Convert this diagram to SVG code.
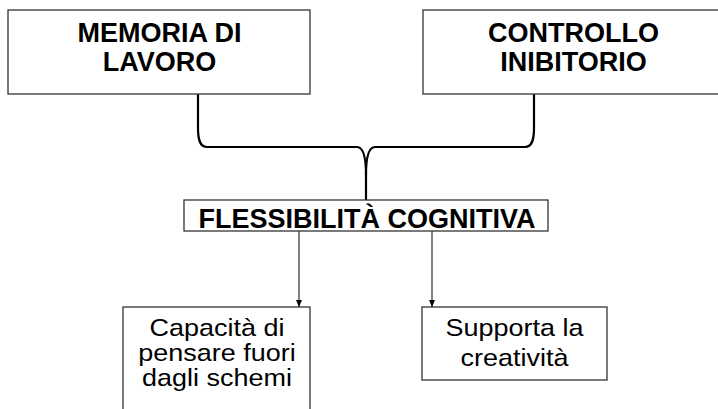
<svg xmlns="http://www.w3.org/2000/svg" width="718" height="409" viewBox="0 0 718 409">
<style>
.box{fill:#fff;stroke:#333;stroke-width:1.3}
.t{font-family:"Liberation Sans",Arial,sans-serif;font-size:24px;fill:#000;text-anchor:middle}
.b{font-weight:bold;font-size:27px}
.con{fill:none;stroke:#000}
</style>
<defs>
<marker id="ah" markerWidth="7" markerHeight="6" refX="7" refY="3" orient="auto" markerUnits="userSpaceOnUse" viewBox="0 0 7 6">
<path d="M0,0 L7,3 L0,6 Z" fill="#000"/>
</marker>
</defs>
<rect width="718" height="409" fill="#fff"/>
<g id="connectors">
<path class="con" stroke-width="2.2" d="M198,94 L198,128 C198,140 200,147 207,147 L357,147 C364,147 366,160 366,175 L366,200"/>
<path class="con" stroke-width="2.2" d="M534,94 L534,128 C534,140 532,147 525,147 L375,147 C368,147 366,160 366,175"/>
<line class="con" stroke-width="1" x1="299" y1="231" x2="299" y2="307" marker-end="url(#ah)"/>
<line class="con" stroke-width="1" x1="432" y1="231" x2="432" y2="307" marker-end="url(#ah)"/>
</g>
<g id="memoria">
<rect class="box" x="8" y="10" width="302" height="84"/>
<text class="t b" x="159.5" y="42">MEMORIA DI</text>
<text class="t b" x="159.5" y="71">LAVORO</text>
</g>
<g id="controllo">
<rect class="box" x="423" y="10" width="301" height="84"/>
<text class="t b" x="573.5" y="42">CONTROLLO</text>
<text class="t b" x="573.5" y="71">INIBITORIO</text>
</g>
<g id="flessibilita">
<rect class="box" x="184" y="200" width="364" height="31"/>
<text class="t b" x="367" y="228">FLESSIBILITÀ COGNITIVA</text>
</g>
<g id="capacita">
<rect class="box" x="123" y="307" width="187" height="120"/>
<g transform="translate(217,0) scale(1.125,1)">
<text class="t" x="0" y="336">Capacità di</text>
<text class="t" x="0" y="361">pensare fuori</text>
<text class="t" x="0" y="386">dagli schemi</text>
</g>
</g>
<g id="supporta">
<rect class="box" x="422" y="307" width="185" height="73"/>
<g transform="translate(514.5,0) scale(1.125,1)">
<text class="t" x="0" y="336">Supporta la</text>
<text class="t" x="0" y="366">creatività</text>
</g>
</g>
</svg>
